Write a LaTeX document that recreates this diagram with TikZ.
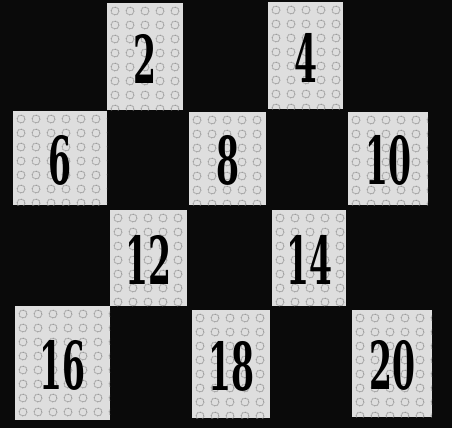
\documentclass[tikz,border=0pt]{standalone}
\usepackage{fontspec}
\newfontfamily\tilefont{DejaVu Serif}
\definecolor{boardBlack}{HTML}{0A0A0A}
\definecolor{tileGrey}{HTML}{DEDEDE}
\definecolor{dotGrey}{HTML}{8E8E8E}

\begin{document}
\begin{tikzpicture}[x=0.5mm, y=-0.5mm]
  % Board
  \fill[boardBlack] (0,0) rectangle (452,428);
  \useasboundingbox (0,0) rectangle (452,428);

  % Tiles: left/top/right/bottom/number
  \foreach \xa/\ya/\xb/\yb/\num in {107/3/183/110/2, 268/2/343/109/4,
      13/111/107/205/6, 189/112/266/205/8, 348/112/428/205/10,
      110/210/187/306/12, 272/210/346/306/14,
      15/306/110/420/16, 192/310/270/418/18, 352/310/432/417/20} {
    \fill[tileGrey] (\xa,\ya) rectangle (\xb,\yb);
    \begin{scope}
      \clip (\xa,\ya) rectangle (\xb,\yb);
      \foreach \i in {0,...,6} {
        \foreach \j in {0,...,7} {
          \draw[dotGrey, densely dotted, line width=1.2pt] ({\xa+8+\i*15},{\ya+8+\j*14}) circle (4);
        }
      }
    \end{scope}
    \node[inner sep=0pt, text=black, font=\fontsize{94}{94}\tilefont\bfseries]
      (n\num) at ({(\xa+\xb)/2},{(\ya+\yb)/2+2}) {\scalebox{0.5}[1]{\num}};
  }
\end{tikzpicture}
\end{document}
